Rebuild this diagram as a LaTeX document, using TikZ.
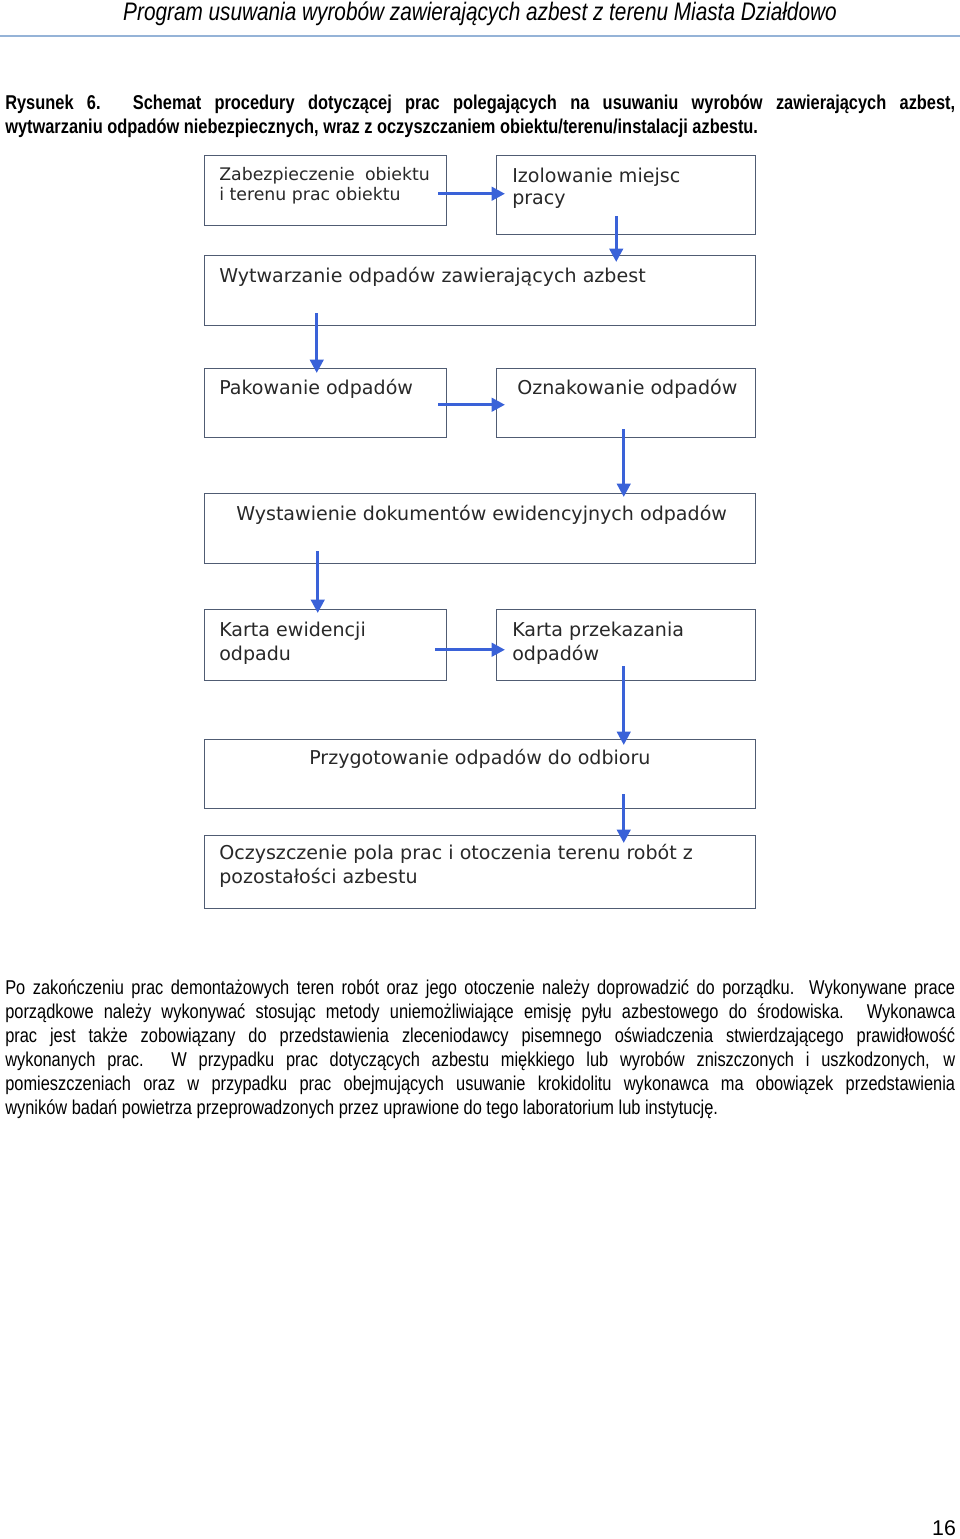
\documentclass[tikz,border=0pt]{standalone}
\usepackage{fontspec}
\setmainfont{Liberation Sans}
\newfontfamily\narrowfont[FakeStretch=0.82]{Liberation Sans}
\newfontfamily\boxfont{DejaVu Sans}
\usetikzlibrary{calc,arrows.meta}
\definecolor{arrowblue}{RGB}{58,98,216}
\definecolor{boxline}{RGB}{80,92,115}
\definecolor{boxtext}{RGB}{40,40,40}
\definecolor{rulecol}{RGB}{149,179,215}
\begin{document}
\begin{tikzpicture}[x=0.75pt,y=-0.75pt,
  stepbox/.style={draw=boxline, line width=1.1pt, inner sep=0pt, anchor=north west},
  wbox/.style={stepbox, minimum width=413.25pt},
  lbox/.style={stepbox, minimum width=181.5pt},
  rbox/.style={stepbox, minimum width=194.25pt},
  boxtxt/.style={anchor=west, inner sep=0pt, text=boxtext, font=\boxfont\fontsize{14.3}{17}\selectfont},
  smalltxt/.style={boxtxt, font=\boxfont\fontsize{13}{16}\selectfont},
  arr/.style={draw=arrowblue, line width=2.4pt, -{Triangle[length=10pt,width=10pt]}},
  para/.style={anchor=north west, inner sep=0pt, text width=712.5pt, align=justify}
]
\useasboundingbox (0,0) rectangle (960,1539);

% header
\node[inner sep=0pt, font=\narrowfont\itshape\fontsize{19}{21}\selectfont] (hdr) at (480,14)
  {Program usuwania wyrobów zawierających azbest z terenu Miasta Działdowo};
\draw[rulecol, line width=1.1pt] (0,36) -- (960,36);

% caption
\node[para, font=\narrowfont\bfseries\fontsize{15}{18}\selectfont] (cap) at (5,95)
  {\noindent\hyphenpenalty=10000 Rysunek 6. Schemat procedury dotyczącej prac polegających na usuwaniu wyrobów zawierających azbest,\linebreak
  wytwarzaniu odpadów niebezpiecznych, wraz z oczyszczaniem obiektu/terenu/instalacji azbestu.};

% boxes
\node[lbox, minimum height=52.5pt] (b1) at (204,155) {};
\node[rbox, minimum height=59.25pt] (b2) at (496,155) {};
\node[wbox, minimum height=52.5pt] (b3) at (204,255) {};
\node[lbox, minimum height=51.75pt] (b4) at (204,368) {};
\node[rbox, minimum height=51.75pt] (b5) at (496,368) {};
\node[wbox, minimum height=52.5pt] (b6) at (204,493) {};
\node[lbox, minimum height=53.25pt] (b7) at (204,609) {};
\node[rbox, minimum height=53.25pt] (b8) at (496,609) {};
\node[wbox, minimum height=51.75pt] (b9) at (204,739) {};
\node[wbox, minimum height=54.75pt] (b10) at (204,835) {};

% box texts
\node[smalltxt] (t1a) at (219,176) {\makebox[158pt][s]{Zabezpieczenie obiektu}};
\node[smalltxt] (t1b) at (219,196) {i terenu prac obiektu};
\node[boxtxt] (t2a) at (512,177) {Izolowanie miejsc};
\node[boxtxt] (t2b) at (512,201) {pracy};
\node[boxtxt] (t3) at (219,277) {Wytwarzanie odpadów zawierających azbest};
\node[boxtxt] (t4) at (219,389) {Pakowanie odpadów};
\node[boxtxt] (t5) at (517,389) {Oznakowanie odpadów};
\node[boxtxt] (t6) at (236,515) {Wystawienie dokumentów ewidencyjnych odpadów};
\node[boxtxt] (t7a) at (219,631) {Karta ewidencji};
\node[boxtxt] (t7b) at (219,655) {odpadu};
\node[boxtxt] (t8a) at (512,631) {Karta przekazania};
\node[boxtxt] (t8b) at (512,655) {odpadów};
\node[boxtxt] (t9) at (309,759) {Przygotowanie odpadów do odbioru};
\node[boxtxt] (t10a) at (219,854) {Oczyszczenie pola prac i otoczenia terenu robót z};
\node[boxtxt] (t10b) at (219,878) {pozostałości azbestu};

% arrows
\draw[arr] ($(b1.east)+(-9,3)$) -- ($(b2.west |- b1.east)+(9,3)$);
\draw[arr] ($(b2.south)+(-10,-19)$) -- ($(b2.south |- b3.north)+(-10,7)$);
\draw[arr] ($(b4.north |- b3.south)+(-9,-13)$) -- ($(b4.north)+(-9,5)$);
\draw[arr] ($(b4.east)+(-9,1.5)$) -- ($(b5.west |- b4.east)+(9,1.5)$);
\draw[arr] ($(b5.south)+(-2.5,-9)$) -- ($(b5.south |- b6.north)+(-2.5,4)$);
\draw[arr] ($(b7.north |- b6.south)+(-8,-13)$) -- ($(b7.north)+(-8,4)$);
\draw[arr] ($(b7.east)+(-12,4.5)$) -- ($(b8.west |- b7.east)+(9,4.5)$);
\draw[arr] ($(b8.south)+(-2.5,-15)$) -- ($(b8.south |- b9.north)+(-2.5,6)$);
\draw[arr] ($(b8.south |- b9.south)+(-2.5,-15)$) -- ($(b8.south |- b10.north)+(-2.5,8)$);

% body text
\node[para, font=\narrowfont\fontsize{15}{18}\selectfont] (body) at (5,979)
  {\noindent\hyphenpenalty=10000 Po zakończeniu prac demontażowych teren robót oraz jego otoczenie należy doprowadzić do porządku. Wykonywane prace\linebreak
  porządkowe należy wykonywać stosując metody uniemożliwiające emisję pyłu azbestowego do środowiska. Wykonawca\linebreak
  prac jest także zobowiązany do przedstawienia zleceniodawcy pisemnego oświadczenia stwierdzającego prawidłowość\linebreak
  wykonanych prac. W przypadku prac dotyczących azbestu miękkiego lub wyrobów zniszczonych i uszkodzonych, w\linebreak
  pomieszczeniach oraz w przypadku prac obejmujących usuwanie krokidolitu wykonawca ma obowiązek przedstawienia\linebreak
  wyników badań powietrza przeprowadzonych przez uprawione do tego laboratorium lub instytucję.};

% page number
\node[inner sep=0pt, font=\fontsize{16}{18}\selectfont] (pg) at (944,1528) {16};
\end{tikzpicture}
\end{document}
